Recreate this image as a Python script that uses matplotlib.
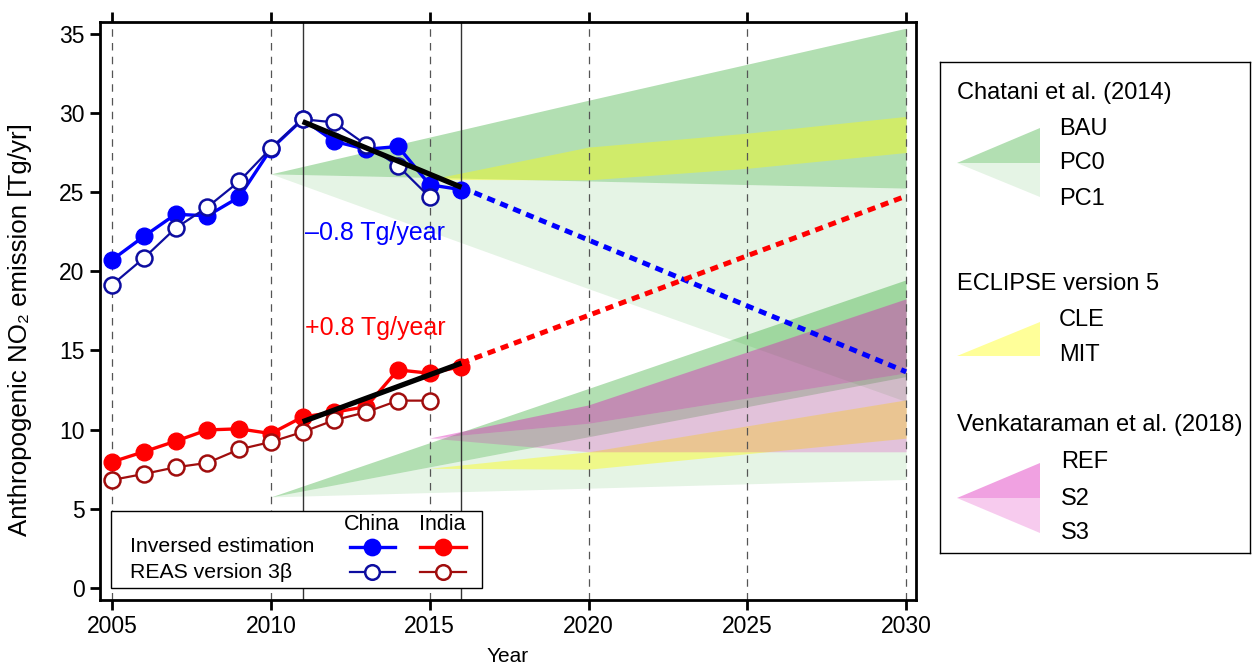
import matplotlib
matplotlib.use('Agg')
import matplotlib.pyplot as plt
import numpy as np
from matplotlib.patches import Polygon, Rectangle
from matplotlib.lines import Line2D

plt.rcParams['font.family'] = ['Liberation Sans', 'DejaVu Sans']

# ---------------- data ----------------
years_inv = np.arange(2005, 2017)
china_inv = [20.72, 22.2, 23.6, 23.5, 24.68, 27.72, 29.6, 28.2, 27.7, 27.88, 25.46, 25.15]
india_inv = [7.96, 8.6, 9.27, 9.98, 10.05, 9.75, 10.8, 11.1, 11.45, 13.77, 13.56, 13.98]

years_reas = np.arange(2005, 2016)
china_reas = [19.14, 20.83, 22.72, 24.05, 25.67, 27.77, 29.6, 29.4, 27.98, 26.66, 24.68]
india_reas = [6.82, 7.2, 7.62, 7.9, 8.75, 9.22, 9.85, 10.6, 11.1, 11.83, 11.83]

trend_years = [2011, 2016]
china_trend = [29.45, 25.3]
india_trend = [10.5, 14.2]
proj_years = [2016, 2030]
china_proj = [25.3, 13.65]
india_proj = [14.2, 24.75]

# Chatani et al. (2014)
chatani_years = [2010, 2020, 2030]
chatani_china_bau = [26.15, 30.8, 35.35]
chatani_china_pc0 = [26.15, 25.7, 25.25]
chatani_china_pc1 = [26.15, 18.9, 11.77]
chatani_india_bau = [5.75, 12.6, 19.46]
chatani_india_pc0 = [5.75, 9.55, 13.35]
chatani_india_pc1 = [5.75, 6.3, 6.85]

# ECLIPSE version 5
eclipse_years = [2015, 2020, 2025, 2030]
eclipse_china_cle = [25.8, 27.84, 28.72, 29.78]
eclipse_china_mit = [25.8, 25.77, 26.5, 27.5]
eclipse_india_cle = [7.56, 8.6, 10.24, 11.88]
eclipse_india_mit = [7.56, 7.5, 8.48, 9.46]

# Venkataraman et al. (2018)
venk_years = [2015, 2020, 2030]
venk_india_ref = [9.47, 11.56, 18.26]
venk_india_s2 = [9.47, 10.4, 13.58]
venk_india_s3 = [9.47, 8.6, 8.6]

GREEN = (0.0, 0.59, 0.0)
YELLOW = (1.0, 1.0, 0.0)
PINK = (0.86, 0.08, 0.71)
A_DG, A_LG, A_Y, A_DP, A_LP = 0.30, 0.10, 0.40, 0.40, 0.22

# ---------------- figure ----------------
fig = plt.figure(figsize=(12.52, 6.68), dpi=100)
ax = fig.add_axes([100/1252, 1-600/668, 816/1252, 578/668])
ax.set_xlim(2004.62, 2030.31)
ax.set_ylim(-0.76, 35.74)


def band(x, lo, hi, color, alpha):
    ax.fill_between(x, lo, hi, color=color, alpha=alpha, lw=0, zorder=1)


band(chatani_years, chatani_china_pc0, chatani_china_bau, GREEN, A_DG)
band(chatani_years, chatani_china_pc1, chatani_china_pc0, GREEN, A_LG)
band(chatani_years, chatani_india_pc0, chatani_india_bau, GREEN, A_DG)
band(chatani_years, chatani_india_pc1, chatani_india_pc0, GREEN, A_LG)
band(eclipse_years, eclipse_china_mit, eclipse_china_cle, YELLOW, A_Y)
band(eclipse_years, eclipse_india_mit, eclipse_india_cle, YELLOW, A_Y)
band(venk_years, venk_india_s2, venk_india_ref, PINK, A_DP)
band(venk_years, venk_india_s3, venk_india_s2, PINK, A_LP)

# vertical reference lines
for yr in range(2005, 2031, 5):
    ax.axvline(yr, color='#555555', lw=0.9, ls=(0, (6, 5)), zorder=2)
for yr in trend_years:
    ax.axvline(yr, color='#333333', lw=1.0, zorder=2)

# projections
ax.plot(proj_years, china_proj, color='blue', lw=3.6, ls=(0, (1.6, 1.2)), zorder=3,
        dash_capstyle='butt')
ax.plot(proj_years, india_proj, color='red', lw=3.6, ls=(0, (1.6, 1.2)), zorder=3,
        dash_capstyle='butt')

# data series
ax.plot(years_inv, china_inv, color='blue', lw=2.4, marker='o', ms=12,
        mfc='blue', mec='blue', zorder=4)
ax.plot(years_inv, india_inv, color='red', lw=2.4, marker='o', ms=12,
        mfc='red', mec='red', zorder=4)
ax.plot(years_reas, china_reas, color='#0d0da0', lw=1.6, marker='o', ms=11.5,
        mfc='white', mec='#0d0da0', mew=1.8, zorder=5)
ax.plot(years_reas, india_reas, color='#a00d0d', lw=1.6, marker='o', ms=11.5,
        mfc='white', mec='#a00d0d', mew=1.8, zorder=5)

# trend lines
ax.plot(trend_years, china_trend, color='black', lw=3.8, zorder=6, solid_capstyle='butt')
ax.plot(trend_years, india_trend, color='black', lw=3.8, zorder=6, solid_capstyle='butt')

ax.text(2011.08, 22.4, '\u20130.8 Tg/year', color='blue', fontsize=18,
        ha='left', va='center', zorder=7)
ax.text(2011.08, 16.42, '+0.8 Tg/year', color='red', fontsize=18,
        ha='left', va='center', zorder=7)

# axes styling
ax.set_xticks(range(2005, 2031, 5))
ax.set_yticks(range(0, 36, 5))
ax.tick_params(axis='x', which='both', direction='out', length=7, width=2.0,
               labelsize=16.5, top=True, bottom=True, pad=4)
ax.tick_params(axis='y', direction='out', length=7, width=2.0, labelsize=16.5, pad=4)
for s in ax.spines.values():
    s.set_linewidth(2.0)
fig.text(20/1252, 1-330/668, 'Anthropogenic NO\u2082 emission [Tg/yr]', fontsize=18.6,
         rotation=90, ha='center', va='center')
fig.text(508/1252, 1-657/668, 'Year', fontsize=15, ha='center', va='center')

# lower-left legend (axes fraction coordinates)
def fx(px):
    return (px - 100) / 816


def fy(py):
    return (600 - py) / 578


T = ax.transAxes
ax.add_patch(Rectangle((fx(111), fy(588)), fx(482) - fx(111), fy(511) - fy(588),
                       transform=T, facecolor='white', edgecolor='black', lw=1.0, zorder=10))
ax.text(fx(372), fy(524), 'China', transform=T, fontsize=15.5, ha='center', va='center', zorder=11)
ax.text(fx(442), fy(524), 'India', transform=T, fontsize=15.5, ha='center', va='center', zorder=11)
ax.text(fx(130), fy(547), 'Inversed estimation', transform=T, fontsize=15.3,
        ha='left', va='center', zorder=11)
ax.text(fx(130), fy(572), 'REAS version 3\u03b2', transform=T, fontsize=15.3,
        ha='left', va='center', zorder=11)
leg_specs = [
    (350, 395, 372, 547, 'blue', 'blue', 2.4),
    (420, 466, 443, 547, 'red', 'red', 2.4),
    (350, 395, 372, 572, '#0d0da0', 'white', 1.6),
    (420, 466, 443, 572, '#a00d0d', 'white', 1.6),
]
for x0, x1, xm, yy, c, fc, lw in leg_specs:
    ax.add_line(Line2D([fx(x0), fx(x1)], [fy(yy), fy(yy)], transform=T, color=c,
                       lw=lw, zorder=11))
    ax.add_line(Line2D([fx(xm)], [fy(yy)], transform=T, marker='o', ms=11 if fc != 'white' else 10.5,
                       mfc=fc, mec=c, mew=1.8, ls='none', zorder=12))

# right legend box (pixel coordinates)
lx = fig.add_axes([940/1252, 1-553/668, 310/1252, 491/668])
lx.set_xlim(940, 1250)
lx.set_ylim(553, 62)
lx.set_xticks([])
lx.set_yticks([])
for s in lx.spines.values():
    s.set_linewidth(1.0)


def tri(pts, color, alpha):
    lx.add_patch(Polygon(pts, closed=True, facecolor=color, alpha=alpha, lw=0))


tri([(957, 163), (1040, 128), (1040, 163)], GREEN, A_DG)
tri([(957, 163), (1040, 163), (1040, 197)], GREEN, A_LG)
tri([(957, 356), (1040, 322), (1040, 356)], YELLOW, A_Y)
tri([(957, 498), (1040, 463), (1040, 498)], PINK, A_DP)
tri([(957, 498), (1040, 498), (1040, 533)], PINK, A_LP)

fs = 17
lx.text(957, 93, 'Chatani et al. (2014)', fontsize=fs, ha='left', va='center')
lx.text(1059, 129, 'BAU', fontsize=fs, ha='left', va='center')
lx.text(1059, 163, 'PC0', fontsize=fs, ha='left', va='center')
lx.text(1059, 199, 'PC1', fontsize=fs, ha='left', va='center')
lx.text(957, 284, 'ECLIPSE version 5', fontsize=fs, ha='left', va='center')
lx.text(1059, 320, 'CLE', fontsize=fs, ha='left', va='center')
lx.text(1059, 355, 'MIT', fontsize=fs, ha='left', va='center')
lx.text(957, 425, 'Venkataraman et al. (2018)', fontsize=fs, ha='left', va='center')
lx.text(1061, 462, 'REF', fontsize=fs, ha='left', va='center')
lx.text(1061, 499, 'S2', fontsize=fs, ha='left', va='center')
lx.text(1061, 533, 'S3', fontsize=fs, ha='left', va='center')

fig.savefig('out.png', dpi=100)
